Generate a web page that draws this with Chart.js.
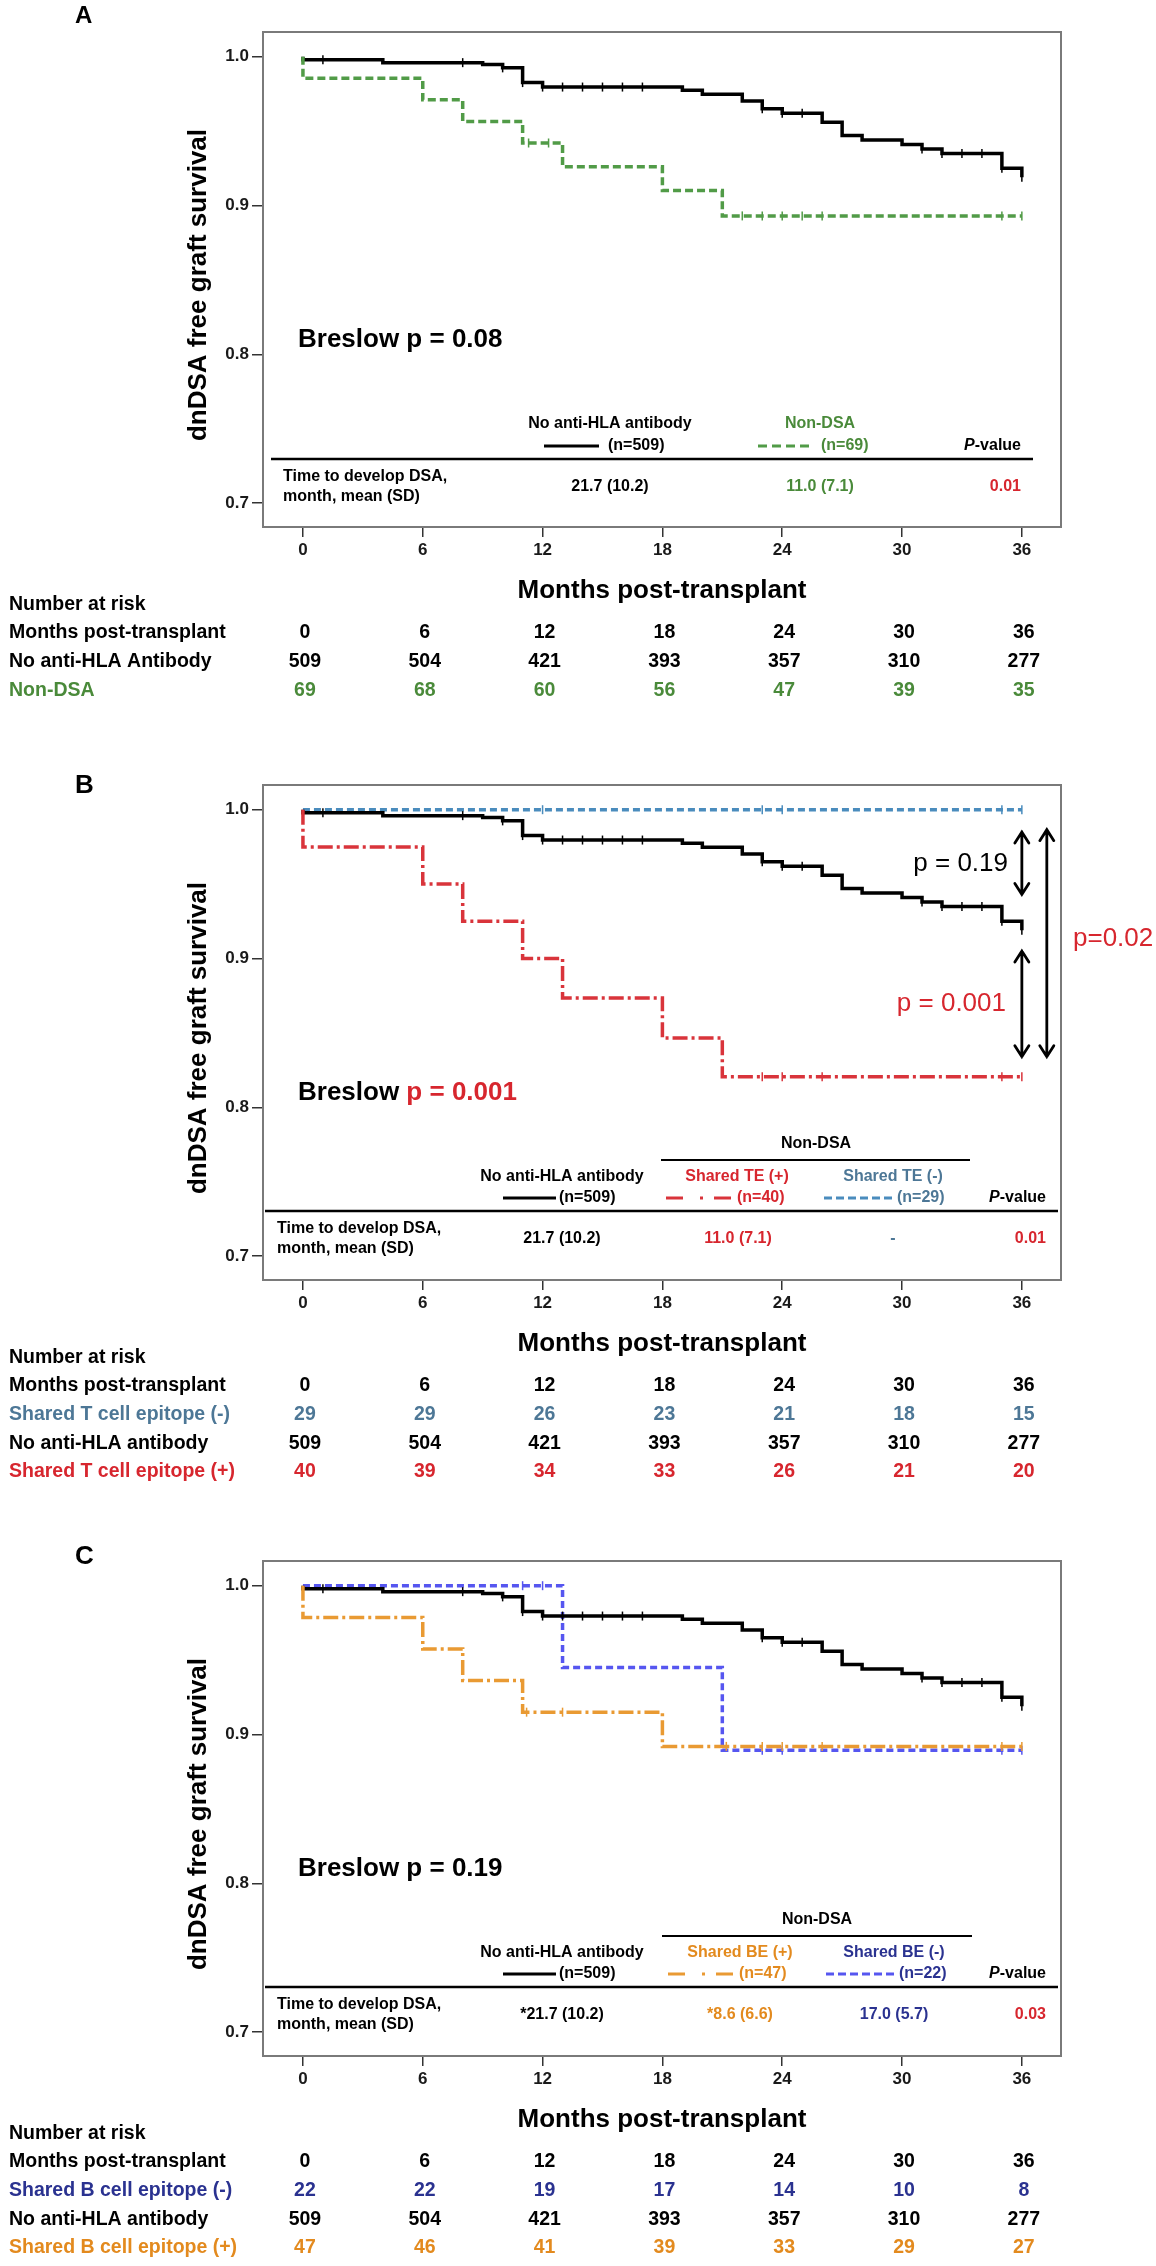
<!DOCTYPE html>
<html lang="en">
<head>
<meta charset="UTF-8" />
<title>dnDSA free graft survival</title>
<script src="https://cdn.jsdelivr.net/npm/chart.js@4.4.1/dist/chart.umd.min.js"></script>
<style>
  html, body { margin: 0; padding: 0; background: #fff; }
  body { width: 1156px; height: 2266px; position: relative; overflow: hidden; }
  .panel { position: absolute; left: 0; width: 1156px; height: 737px; }
</style>
</head>
<body>
<div class="panel" style="top:0px"><canvas id="chartA"></canvas></div>
<div class="panel" style="top:753px"><canvas id="chartB"></canvas></div>
<div class="panel" style="top:1529px"><canvas id="chartC"></canvas></div>

<script>
// ---- values ----
const months = [0, 6, 12, 18, 24, 30, 36];
const survTicks = [0.7, 0.8, 0.9, 1.0];

// No anti-HLA antibody (same group in every panel)
const noAbTime = [0, 0, 4, 9, 10, 11, 12, 19, 20, 22, 23, 24, 26, 27, 28, 30, 31, 32, 35, 36];
const noAbSurv = [1.0, 0.998, 0.996, 0.9947, 0.9925, 0.9826, 0.9796, 0.9774, 0.9748, 0.9703, 0.965, 0.962, 0.956, 0.947, 0.944, 0.941, 0.938, 0.935, 0.925, 0.919];
const noAbCensor = [1, 8, 10, 11, 12, 13, 14, 15, 16, 17, 23, 24, 25, 31, 32, 33, 34, 35, 36];

// A: Non-DSA
const nonDsaTime = [0, 0, 6, 8, 11, 13, 18, 21, 36];
const nonDsaSurv = [1.0, 0.9855, 0.971, 0.9565, 0.942, 0.926, 0.91, 0.893, 0.893];
const nonDsaCensor = [11.3, 12.3, 22, 23, 24, 25, 26, 35, 36];

// B: shared T cell epitope
const tePosTime = [0, 0, 6, 8, 11, 13, 18, 21, 36];
const tePosSurv = [1.0, 0.975, 0.95, 0.925, 0.9, 0.8735, 0.8465, 0.8205, 0.8205];
const tePosCensor = [23, 24, 26, 35, 36];
const teNegTime = [0, 36];
const teNegSurv = [1.0, 1.0];
const teNegCensor = [12, 23, 24, 35, 36];

// C: shared B cell epitope
const bePosTime = [0, 0, 6, 8, 11, 18, 36];
const bePosSurv = [1.0, 0.9787, 0.9575, 0.9362, 0.915, 0.892, 0.892];
const bePosCensor = [11.2, 13, 21.2, 23, 24, 26, 35, 36];
const beNegTime = [0, 13, 21, 36];
const beNegSurv = [1.0, 0.945, 0.8894, 0.8894];
const beNegCensor = [11, 12, 23, 24, 35, 36];

// number at risk
const riskNoAb = [509, 504, 421, 393, 357, 310, 277];
const riskNonDsa = [69, 68, 60, 56, 47, 39, 35];
const riskTeNeg = [29, 29, 26, 23, 21, 18, 15];
const riskTePos = [40, 39, 34, 33, 26, 21, 20];
const riskBeNeg = [22, 22, 19, 17, 14, 10, 8];
const riskBePos = [47, 46, 41, 39, 33, 29, 27];

// ---- styles ----
const FONT = "'Liberation Sans', Arial, Helvetica, sans-serif";
const NARROW = "'Liberation Sans Narrow', 'Arial Narrow', " + FONT;
const B16 = "bold 16px " + FONT;
const RISK = "bold 19.5px " + FONT;
const BLACK = '#000000';
const GREEN_TXT = '#4a8a3a', GREEN_LINE = '#519b47';
const RED_TXT = '#d7262e', RED_LINE = '#d9343b';
const STEEL_TXT = '#4d7796', STEEL_LINE = '#4a8cbd';
const NAVY_TXT = '#2a3290', BLUE_LINE = '#5656f0';
const ORANGE_TXT = '#e38a1e', ORANGE_LINE = '#e99a33';

function survAt(time, surv, t) {
  let v = surv[0];
  for (let i = 0; i < time.length; i++) if (time[i] <= t) v = surv[i];
  return v;
}

function curveDatasets(c) {
  return [
    {
      data: c.time.map((t, i) => ({ x: t, y: c.surv[i] })),
      borderColor: c.color, borderWidth: 3.5, borderDash: c.dash,
      borderCapStyle: 'butt', stepped: true, pointRadius: 0, fill: false
    },
    {
      data: c.censor.map(t => ({ x: t, y: survAt(c.time, c.surv, t) })),
      showLine: false, pointStyle: 'line', pointRotation: 90, pointRadius: 4.5,
      pointBorderWidth: 1.5, pointBorderColor: c.color, pointBackgroundColor: c.color
    }
  ];
}

function drawRuns(ctx, runs, x, y, align, baseline) {
  let total = 0;
  runs.forEach(r => { ctx.font = r.font; total += ctx.measureText(r.t).width; });
  let cx = align === 'center' ? x - total / 2 : align === 'right' ? x - total : x;
  ctx.textAlign = 'left';
  ctx.textBaseline = baseline || 'middle';
  runs.forEach(r => {
    ctx.font = r.font; ctx.fillStyle = r.color;
    ctx.fillText(r.t, cx, y);
    cx += ctx.measureText(r.t).width;
  });
}

function hline(ctx, x1, x2, y, w, color, dash) {
  ctx.beginPath();
  ctx.lineWidth = w; ctx.strokeStyle = color; ctx.lineCap = 'butt';
  ctx.setLineDash(dash || []);
  ctx.moveTo(x1, y); ctx.lineTo(x2, y); ctx.stroke();
  ctx.setLineDash([]);
}

function txt(t, x, y, color, align) {
  return { runs: [{ t: t, font: B16, color: color || BLACK }], x: x, y: y, align: align || 'left' };
}
function pValue(x, y) {
  return { runs: [{ t: 'P', font: 'italic ' + B16, color: BLACK }, { t: '-value', font: B16, color: BLACK }], x: x, y: y, align: 'right' };
}

function extras(p) {
  return {
    id: 'extras' + p.letter,
    afterDraw(chart) {
      const ctx = chart.ctx, a = chart.chartArea, xs = chart.scales.x, ys = chart.scales.y;
      ctx.save();
      // frame
      ctx.strokeStyle = '#7a7a7a'; ctx.lineWidth = 2;
      ctx.strokeRect(a.left, a.top, a.right - a.left, a.bottom - a.top);

      // panel letter
      drawRuns(ctx, [{ t: p.letter, font: 'bold ' + p.letterSize + 'px ' + FONT, color: BLACK }], 75, p.letterY, 'left', 'alphabetic');

      // axis titles
      ctx.save();
      ctx.translate(199, 285);
      ctx.rotate(-Math.PI / 2);
      drawRuns(ctx, [{ t: 'dnDSA free graft survival', font: 'bold 26px ' + FONT, color: BLACK }], 0, 0, 'center');
      ctx.restore();
      drawRuns(ctx, [{ t: 'Months post-transplant', font: 'bold 26px ' + FONT, color: BLACK }], (a.left + a.right) / 2, 598, 'center', 'alphabetic');

      // Breslow
      drawRuns(ctx, p.breslow.map(r => ({ t: r[0], font: 'bold 26px ' + FONT, color: r[1] })), 298, 347, 'left', 'alphabetic');

      // embedded table
      p.table.rules.forEach(r => hline(ctx, r[0], r[1], r[2], r[3], BLACK));
      p.table.samples.forEach(s => hline(ctx, s[0], s[1], s[2], 3, s[3], s[4]));
      p.table.texts.forEach(t => drawRuns(ctx, t.runs, t.x, t.y, t.align));

      // comparison arrows
      (p.arrows || []).forEach(ar => {
        const x = xs.getPixelForValue(ar.x);
        const y1 = ys.getPixelForValue(ar.top), y2 = ys.getPixelForValue(ar.bottom);
        ctx.strokeStyle = BLACK; ctx.lineWidth = 2.8; ctx.lineCap = 'round';
        ctx.beginPath();
        ctx.moveTo(x, y1); ctx.lineTo(x, y2);
        ctx.moveTo(x - 7, y1 + 11); ctx.lineTo(x, y1); ctx.lineTo(x + 7, y1 + 11);
        ctx.moveTo(x - 7, y2 - 11); ctx.lineTo(x, y2); ctx.lineTo(x + 7, y2 - 11);
        ctx.stroke();
      });
      (p.notes || []).forEach(n => drawRuns(ctx, [{ t: n.t, font: '26px ' + FONT, color: n.color }], n.x, n.y, n.align));

      // number at risk
      drawRuns(ctx, [{ t: 'Number at risk', font: RISK, color: BLACK }], 9, 605, 'left');
      p.risk.forEach((row, r) => {
        const y = 633 + r * 28.6;
        drawRuns(ctx, [{ t: row[0], font: RISK, color: row[2] }], 9, y, 'left');
        row[1].forEach((v, i) => {
          drawRuns(ctx, [{ t: String(v), font: RISK, color: row[2] }], xs.getPixelForValue(months[i]) + 2, y, 'center');
        });
      });
      ctx.restore();
    }
  };
}

function makeChart(id, p) {
  const datasets = [];
  p.curves.forEach(c => datasets.push(...curveDatasets(c)));
  const tickFont = { family: NARROW, size: 17, weight: 'bold' };
  return new Chart(document.getElementById(id), {
    type: 'line',
    data: { datasets: datasets },
    options: {
      responsive: true,
      maintainAspectRatio: false,
      animation: false,
      layout: { padding: { top: 32, right: 95, bottom: 170, left: 0 } },
      plugins: { legend: { display: false }, tooltip: { enabled: false } },
      scales: {
        x: {
          type: 'linear', min: -2, max: 37.96,
          afterBuildTicks: s => { s.ticks = months.map(v => ({ value: v })); },
          afterFit: s => { s.height = 40; },
          ticks: { font: tickFont, color: '#1a1a1a', padding: 3, maxRotation: 0 },
          grid: { drawOnChartArea: false, drawTicks: true, tickLength: 10, color: '#333', lineWidth: 1.5 },
          border: { display: false }
        },
        y: {
          type: 'linear', min: 0.6839, max: 1.0166,
          afterBuildTicks: s => { s.ticks = survTicks.map(v => ({ value: v })); },
          afterFit: s => { s.width = 263; },
          ticks: { font: tickFont, color: '#1a1a1a', padding: 3, callback: v => v.toFixed(1) },
          grid: { drawOnChartArea: false, drawTicks: true, tickLength: 11, color: '#333', lineWidth: 1.5 },
          border: { display: false }
        }
      }
    },
    plugins: [extras(p)]
  });
}

// ---- panels ----
makeChart('chartA', {
  letter: 'A', letterY: 23, letterSize: 24,
  curves: [
    { time: nonDsaTime, surv: nonDsaSurv, censor: nonDsaCensor, color: GREEN_LINE, dash: [8, 4] },
    { time: noAbTime, surv: noAbSurv, censor: noAbCensor, color: BLACK, dash: [] }
  ],
  breslow: [['Breslow p = 0.08', BLACK]],
  table: {
    rules: [[271, 1033, 459, 2.5]],
    samples: [[544, 599, 446, BLACK, []], [758, 813, 446, GREEN_LINE, [9, 5]]],
    texts: [
      txt('No anti-HLA antibody', 610, 424, BLACK, 'center'),
      txt('(n=509)', 608, 446),
      txt('Non-DSA', 820, 424, GREEN_TXT, 'center'),
      txt('(n=69)', 821, 446, GREEN_TXT),
      pValue(1021, 446),
      txt('Time to develop DSA,', 283, 477),
      txt('month, mean (SD)', 283, 497),
      txt('21.7 (10.2)', 610, 487, BLACK, 'center'),
      txt('11.0 (7.1)', 820, 487, GREEN_TXT, 'center'),
      txt('0.01', 1021, 487, RED_TXT, 'right')
    ]
  },
  risk: [
    ['Months post-transplant', months, BLACK],
    ['No anti-HLA Antibody', riskNoAb, BLACK],
    ['Non-DSA', riskNonDsa, GREEN_TXT]
  ]
});

makeChart('chartB', {
  letter: 'B', letterY: 40, letterSize: 26,
  curves: [
    { time: tePosTime, surv: tePosSurv, censor: tePosCensor, color: RED_LINE, dash: [15, 4, 3, 4] },
    { time: noAbTime, surv: noAbSurv, censor: noAbCensor, color: BLACK, dash: [] },
    { time: teNegTime, surv: teNegSurv, censor: teNegCensor, color: STEEL_LINE, dash: [7, 4] }
  ],
  breslow: [['Breslow ', BLACK], ['p = 0.001', RED_TXT]],
  arrows: [
    { x: 36, top: 0.985, bottom: 0.943 },
    { x: 36, top: 0.905, bottom: 0.834 },
    { x: 37.25, top: 0.9866, bottom: 0.834 }
  ],
  notes: [
    { t: 'p = 0.19', x: 1008, y: 111, align: 'right', color: BLACK },
    { t: 'p = 0.001', x: 1006, y: 251, align: 'right', color: RED_TXT },
    { t: 'p=0.02', x: 1073, y: 186, align: 'left', color: RED_TXT }
  ],
  table: {
    rules: [[661, 970, 407, 2], [265, 1058, 458, 2.5]],
    samples: [[503, 556, 445, BLACK, []], [666, 733, 445, RED_LINE, [17, 17, 3, 11]], [824, 893, 445, STEEL_LINE, [8, 4]]],
    texts: [
      txt('Non-DSA', 816, 391, BLACK, 'center'),
      txt('No anti-HLA antibody', 562, 424, BLACK, 'center'),
      txt('(n=509)', 559, 445),
      txt('Shared TE (+)', 737, 424, RED_TXT, 'center'),
      txt('(n=40)', 737, 445, RED_TXT),
      txt('Shared TE (-)', 893, 424, STEEL_TXT, 'center'),
      txt('(n=29)', 897, 445, STEEL_TXT),
      pValue(1046, 445),
      txt('Time to develop DSA,', 277, 476),
      txt('month, mean (SD)', 277, 496),
      txt('21.7 (10.2)', 562, 486, BLACK, 'center'),
      txt('11.0 (7.1)', 738, 486, RED_TXT, 'center'),
      txt('-', 893, 486, STEEL_TXT, 'center'),
      txt('0.01', 1046, 486, RED_TXT, 'right')
    ]
  },
  risk: [
    ['Months post-transplant', months, BLACK],
    ['Shared T cell epitope (-)', riskTeNeg, STEEL_TXT],
    ['No anti-HLA antibody', riskNoAb, BLACK],
    ['Shared T cell epitope (+)', riskTePos, RED_TXT]
  ]
});

makeChart('chartC', {
  letter: 'C', letterY: 35, letterSize: 26,
  curves: [
    { time: bePosTime, surv: bePosSurv, censor: bePosCensor, color: ORANGE_LINE, dash: [15, 4, 3, 4] },
    { time: noAbTime, surv: noAbSurv, censor: noAbCensor, color: BLACK, dash: [] },
    { time: beNegTime, surv: beNegSurv, censor: beNegCensor, color: BLUE_LINE, dash: [7, 4] }
  ],
  breslow: [['Breslow p = 0.19', BLACK]],
  table: {
    rules: [[662, 972, 407, 2], [265, 1058, 458, 2.5]],
    samples: [[503, 556, 445, BLACK, []], [668, 735, 445, ORANGE_LINE, [17, 17, 3, 11]], [826, 895, 445, BLUE_LINE, [8, 4]]],
    texts: [
      txt('Non-DSA', 817, 391, BLACK, 'center'),
      txt('No anti-HLA antibody', 562, 424, BLACK, 'center'),
      txt('(n=509)', 559, 445),
      txt('Shared BE (+)', 740, 424, ORANGE_TXT, 'center'),
      txt('(n=47)', 739, 445, ORANGE_TXT),
      txt('Shared BE (-)', 894, 424, NAVY_TXT, 'center'),
      txt('(n=22)', 899, 445, NAVY_TXT),
      pValue(1046, 445),
      txt('Time to develop DSA,', 277, 476),
      txt('month, mean (SD)', 277, 496),
      txt('*21.7 (10.2)', 562, 486, BLACK, 'center'),
      txt('*8.6 (6.6)', 740, 486, ORANGE_TXT, 'center'),
      txt('17.0 (5.7)', 894, 486, NAVY_TXT, 'center'),
      txt('0.03', 1046, 486, RED_TXT, 'right')
    ]
  },
  risk: [
    ['Months post-transplant', months, BLACK],
    ['Shared B cell epitope (-)', riskBeNeg, NAVY_TXT],
    ['No anti-HLA antibody', riskNoAb, BLACK],
    ['Shared B cell epitope (+)', riskBePos, ORANGE_TXT]
  ]
});
</script>
</body>
</html>
